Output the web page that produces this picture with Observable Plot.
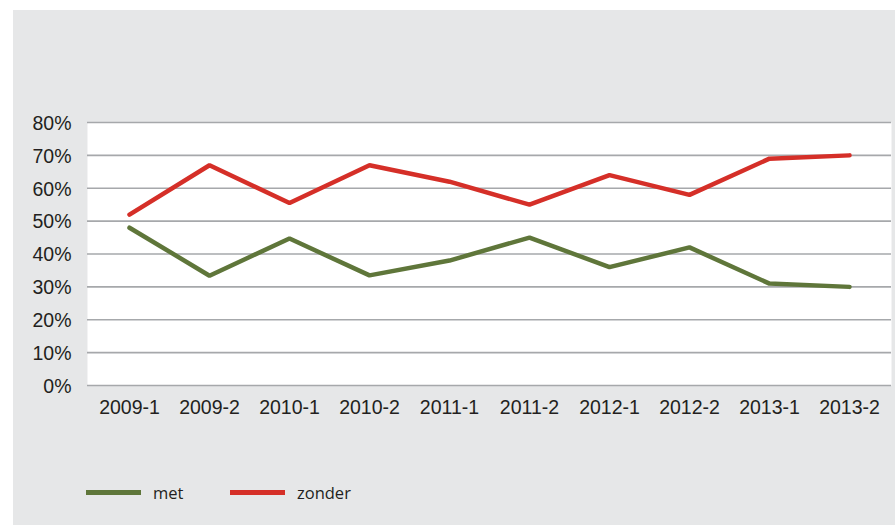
<!DOCTYPE html>
<html>
<head>
<meta charset="utf-8">
<script src="https://cdn.jsdelivr.net/npm/d3@7"></script>
<script src="https://cdn.jsdelivr.net/npm/@observablehq/plot@0.6"></script>
<style>
  html, body { margin: 0; padding: 0; background: #ffffff; }
  #panel { position: absolute; left: 13px; top: 10px; width: 882px; height: 515px; background: #e6e7e8; }
  #chart svg { display: block; }
  #legend { position: absolute; left: 0; top: 460px; height: 44px; display: flex; align-items: center;
            font-family: "Open Sans", sans-serif; font-size: 16.5px; color: #231f20; }
  .item { display: flex; align-items: center; position: absolute; white-space: nowrap; }
  .swatch { width: 55px; height: 5px; margin-right: 12px; }
</style>
</head>
<body>
<div id="panel">
  <div id="chart"></div>
  <div id="legend"></div>
</div>
<script>
const categories = ["2009-1","2009-2","2010-1","2010-2","2011-1","2011-2","2012-1","2012-2","2013-1","2013-2"];
const seriesNames = ["met", "zonder"];
const seriesColors = ["#5f763a", "#d52f28"];
const metValues = [48, 33.4, 44.7, 33.5, 38, 45, 36, 42, 31, 30];
const zonderValues = [52, 67, 55.5, 67, 62, 55, 64, 58, 69, 70];
const yTicks = [0, 10, 20, 30, 40, 50, 60, 70, 80];

const data = [];
categories.forEach((c, i) => {
  data.push({cat: c, series: "met", value: metValues[i]});
  data.push({cat: c, series: "zonder", value: zonderValues[i]});
});

const chart = Plot.plot({
  width: 882,
  height: 420,
  marginLeft: 74,
  marginRight: 4,
  marginTop: 112,
  marginBottom: 45,
  style: {background: "transparent", fontFamily: "'Liberation Sans', Arial, sans-serif", fontSize: "19.5px", color: "#231f20"},
  x: {type: "point", domain: categories, padding: 0.5, label: null},
  y: {domain: [0, 80], label: null},
  color: {domain: seriesNames, range: seriesColors},
  marks: [
    Plot.frame({fill: "white", stroke: null}),
    Plot.ruleY(yTicks, {stroke: "#a6a8ab", strokeWidth: 1.6}),
    Plot.axisY({ticks: yTicks, tickFormat: d => d + "%", tickSize: 0, tickPadding: 16, fontSize: 19.5, dy: 1}),
    Plot.axisX({tickSize: 0, tickPadding: 15, fontSize: 19.5}),
    Plot.line(data, {x: "cat", y: "value", z: "series", stroke: "series", strokeWidth: 4.5, strokeLinejoin: "miter", strokeLinecap: "round"})
  ]
});
document.getElementById("chart").appendChild(chart);

const legend = document.getElementById("legend");
const lefts = [73, 217];
seriesNames.forEach((name, i) => {
  const item = document.createElement("div");
  item.className = "item";
  item.style.left = lefts[i] + "px";
  const sw = document.createElement("span");
  sw.className = "swatch";
  sw.style.background = seriesColors[i];
  const label = document.createElement("span");
  label.textContent = name;
  item.appendChild(sw);
  item.appendChild(label);
  legend.appendChild(item);
});
</script>
</body>
</html>
